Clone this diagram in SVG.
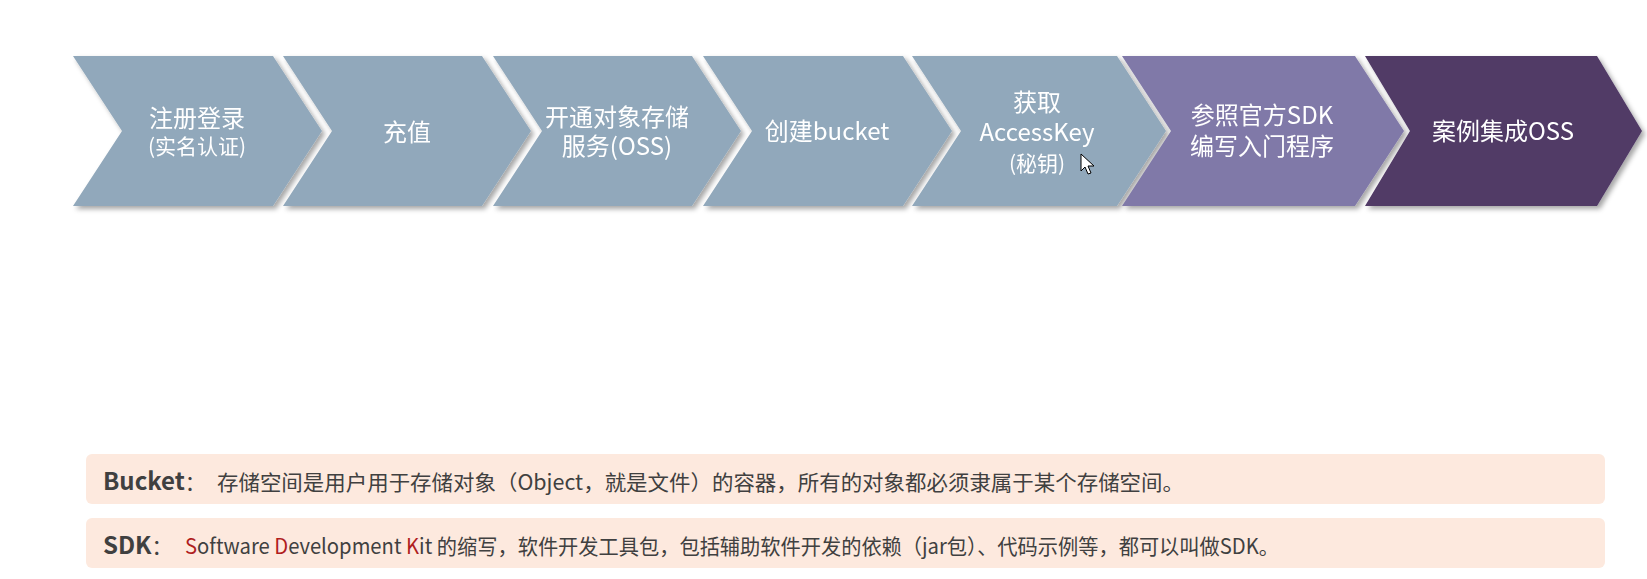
<svg xmlns="http://www.w3.org/2000/svg" width="1647" height="579" viewBox="0 0 1647 579">
<style>
.step{fill:#91A8BB;}
.p1{fill:#8079A8;}
.p2{fill:#513A66;}
.lbl{font-family:"Noto Sans CJK SC","Noto Sans",sans-serif;fill:#FFFFFF;text-anchor:middle;font-size:24px;}
.sm{font-size:21px;}
.box{fill:#FDE9DE;}
.body{font-family:"Noto Sans CJK SC","Noto Sans",sans-serif;fill:#404040;font-size:21px;}
.bold{font-weight:bold;font-size:24px;}
.red{fill:#B01E1E;}
</style>
<defs>
<filter id="sh" x="-10%" y="-10%" width="130%" height="130%">
<feDropShadow dx="3" dy="3" stdDeviation="2.5" flood-color="#000" flood-opacity="0.35"/>
</filter>
</defs>
<rect width="1647" height="579" fill="#FFFFFF"/>
<g id="n1" filter="url(#sh)">
<polygon class="step" points="73,56 273,56 322,131 273,206 73,206 122,131"/>
<text class="lbl" x="197" y="127">注册登录</text>
<text class="lbl sm" x="197" y="154">(实名认证)</text>
</g>
<g id="n2" filter="url(#sh)">
<polygon class="step" points="283,56 482,56 531,131 482,206 283,206 332,131"/>
<text class="lbl" x="407" y="141">充值</text>
</g>
<g id="n3" filter="url(#sh)">
<polygon class="step" points="493,56 692,56 741,131 692,206 493,206 542,131"/>
<text class="lbl" x="617" y="126">开通对象存储</text>
<text class="lbl" x="617" y="155">服务(OSS)</text>
</g>
<g id="n4" filter="url(#sh)">
<polygon class="step" points="703,56 903,56 952,131 903,206 703,206 752,131"/>
<text class="lbl" x="827" y="140">创建bucket</text>
</g>
<g id="n5" filter="url(#sh)">
<polygon class="step" points="912,56 1117,56 1166,131 1117,206 912,206 961,131"/>
<text class="lbl" x="1037" y="111">获取</text>
<text class="lbl" x="1037" y="141">AccessKey</text>
<text class="lbl sm" x="1037" y="171">(秘钥)</text>
</g>
<g id="n6" filter="url(#sh)">
<polygon class="p1" points="1122,56 1355,56 1404,131 1355,206 1122,206 1171,131"/>
<text class="lbl" x="1262" y="124">参照官方SDK</text>
<text class="lbl" x="1262" y="155">编写入门程序</text>
</g>
<g id="n7" filter="url(#sh)">
<polygon class="p2" points="1365,56 1597,56 1642,131 1597,206 1365,206 1410,131"/>
<text class="lbl" x="1503" y="140">案例集成OSS</text>
</g>
<g id="connectors"></g>
<g id="cursor">
<polygon points="1081,154 1081,171 1085,167 1088,174 1091,173 1088,166 1094,166" fill="#FFFFFF" stroke="#000000" stroke-width="1"/>
</g>
<g id="note1">
<rect class="box" x="86" y="454" width="1519" height="50" rx="6"/>
<text class="body" x="103" y="490"><tspan class="bold">Bucket</tspan>：</text>
<text class="body" x="217" y="490" textLength="967" lengthAdjust="spacingAndGlyphs">存储空间是用户用于存储对象（Object，就是文件）的容器，所有的对象都必须隶属于某个存储空间。</text>
</g>
<g id="note2">
<rect class="box" x="86" y="518" width="1519" height="50" rx="6"/>
<text class="body" x="103" y="554"><tspan class="bold">SDK</tspan>：</text>
<text class="body" x="185" y="554" textLength="1094" lengthAdjust="spacingAndGlyphs"><tspan class="red">S</tspan>oftware <tspan class="red">D</tspan>evelopment <tspan class="red">K</tspan>it 的缩写，软件开发工具包，包括辅助软件开发的依赖（jar包）、代码示例等，都可以叫做SDK。</text>
</g>
</svg>
